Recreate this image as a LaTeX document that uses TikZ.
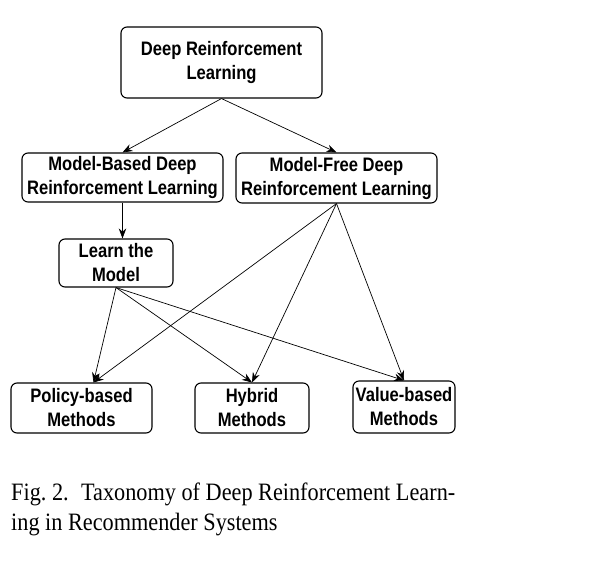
\documentclass[tikz,border=0pt]{standalone}
\usepackage{fontspec}
\setmainfont{Liberation Serif}
\newfontfamily\boxfont{Liberation Sans}[FakeStretch=0.85]
\newfontfamily\capfont{Liberation Serif}[FakeStretch=0.89]
\usetikzlibrary{arrows.meta}

\begin{document}
\begin{tikzpicture}[x=1pt, y=-1pt,
  every node/.style = {shape=rectangle, align=center, inner sep=1pt},
  box/.style = {draw, rounded corners=6pt, line width=1.1pt,
    font=\boxfont\bfseries\fontsize{19.5}{24}\selectfont},
  link/.style = {-{Stealth[length=10pt,width=7.5pt]}, line width=0.7pt}]
  \useasboundingbox (0,0) rectangle (604,562);
  \node[box, minimum width=201, minimum height=71] (drl) at (221.5,62.5) {Deep Reinforcement\\Learning};
  \node[box, minimum width=201, minimum height=49] (mb) at (122.5,177.5) {Model-Based Deep\\Reinforcement Learning};
  \node[box, minimum width=201, minimum height=50] (mf) at (336.5,178) {Model-Free Deep\\Reinforcement Learning};
  \node[box, minimum width=114, minimum height=48] (learn) at (116,263) {Learn the\\Model};
  \node[box, minimum width=141, minimum height=50] (pol) at (81.5,408) {Policy-based\\Methods};
  \node[box, minimum width=114, minimum height=50] (hyb) at (252,408) {Hybrid\\Methods};
  \node[box, minimum width=102, minimum height=52] (val) at (404,407) {Value-based\\Methods};
  \coordinate (pol in) at ([xshift=12]pol.north);
  \node[anchor=base west, align=left, font=\capfont\fontsize{25}{30}\selectfont] (caption) at (10,530)
    {Fig.~2.\enspace Taxonomy of Deep Reinforcement Learn-\\ing in Recommender Systems};
  \draw[link] (drl.south) -- (mb.north);
  \draw[link] (drl.south) -- (mf.north);
  \draw[link] (mb.south) -- (mb.south |- learn.north);
  \foreach \src in {learn, mf} {
    \draw[link] (\src.south) -- (pol in);
    \draw[link] (\src.south) -- (hyb.north);
    \draw[link] (\src.south) -- (val.north);
  }
\end{tikzpicture}
\end{document}
